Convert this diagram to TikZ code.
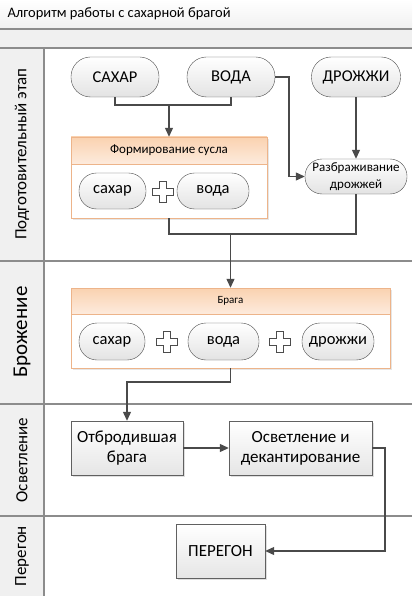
\documentclass[tikz,border=0pt]{standalone}
\usepackage{fontspec}
\setmainfont{Carlito}
\usetikzlibrary{shadows,arrows.meta}

\definecolor{linegray}{HTML}{4A4A4A}
\definecolor{lanegray}{HTML}{8C8C8C}
\definecolor{bandgray}{HTML}{F0F0F0}
\definecolor{grpedge}{HTML}{EDB48A}
\definecolor{headtop}{HTML}{FAD2B0}
\definecolor{headbot}{HTML}{FDEBDD}

\newcommand{\plusmark}[1]{%
  \draw[plusline, shift={#1}] (-3.5,-10.5) -- (3.5,-10.5) -- (3.5,-3.5) -- (10.5,-3.5)
    -- (10.5,3.5) -- (3.5,3.5) -- (3.5,10.5) -- (-3.5,10.5) -- (-3.5,3.5)
    -- (-10.5,3.5) -- (-10.5,-3.5) -- (-3.5,-3.5) -- cycle;}

\begin{document}
\begin{tikzpicture}[>={Triangle[length=9pt,width=8pt]}, x=1pt, y=-1pt,
    pill/.style={draw=linegray, top color=white, bottom color=gray!22,
      inner sep=0pt, font=\fontsize{16.5}{18}\selectfont},
    box/.style={draw=gray!75!black, top color=white, bottom color=gray!20,
      inner sep=0pt, align=center, font=\fontsize{17}{20}\selectfont,
      drop shadow={shadow xshift=2pt, shadow yshift=-2pt, opacity=0.25}},
    group/.style={draw=grpedge, fill=white, inner sep=0pt,
      drop shadow={shadow xshift=2pt, shadow yshift=-2pt, opacity=0.2}},
    head/.style={draw=grpedge, top color=headtop, bottom color=headbot, inner sep=0pt},
    plusline/.style={draw=gray!60!black, fill=white, line width=0.6pt},
    flow/.style={draw=linegray, line width=1.2pt},
    lanelabel/.style={rotate=90, font=\fontsize{17}{19}\selectfont}]

    \useasboundingbox (0,0) rectangle (412,596);

    % Заголовок и полосы
    \shade[top color=white, bottom color=bandgray] (0,0) rectangle (412,29);
    \fill[bandgray] (0,29) rectangle (412,48);
    \fill[bandgray] (0,48) rectangle (44,596);
    \draw[lanegray, line width=1.4pt] (0,29) -- (412,29);
    \draw[lanegray, line width=1.4pt] (0,48) -- (412,48);
    \draw[lanegray, line width=1.4pt] (44,48) -- (44,596);
    \draw[lanegray, line width=1.2pt] (0,261) -- (412,261);
    \draw[lanegray, line width=1.2pt] (0,404) -- (412,404);
    \draw[lanegray, line width=1.2pt] (0,516) -- (412,516);
    \node[anchor=west, font=\fontsize{14.5}{16}\selectfont] (title) at (4,14) {Алгоритм работы с сахарной брагой};

    % Дорожки
    \node[lanelabel] (lane1) at (22,154) {Подготовительный этап};
    \node[lanelabel, font=\fontsize{21}{23}\selectfont] (lane2) at (22,332) {Брожение};
    \node[lanelabel] (lane3) at (22,460) {Осветление};
    \node[lanelabel] (lane4) at (22,556) {Перегон};

    % Исходные компоненты
    \node[pill, rounded corners=19.5pt, minimum width=88pt, minimum height=40pt] (sahar) at (115,77) {САХАР};
    \node[pill, rounded corners=19.5pt, minimum width=88pt, minimum height=40pt] (voda) at (231,77) {ВОДА};
    \node[pill, rounded corners=19.5pt, minimum width=89pt, minimum height=40pt] (drozh) at (356,77) {ДРОЖЖИ};
    \node[pill, rounded corners=17pt, minimum width=102pt, minimum height=35pt, align=center,
      font=\fontsize{13}{17}\selectfont] (razb) at (356,176.5) {Разбраживание\\дрожжей};

    % Формирование сусла
    \node[group, minimum width=196pt, minimum height=81pt] (fbox) at (169,177.5) {};
    \node[head, minimum width=196pt, minimum height=27pt, font=\fontsize{13}{15}\selectfont] (fhead) at (169,150.5) {Формирование сусла};
    \node[pill, rounded corners=17.5pt, minimum width=67pt, minimum height=36pt] (fsahar) at (112.5,191) {сахар};
    \node[pill, rounded corners=17.5pt, minimum width=72pt, minimum height=36pt] (fvoda) at (213,191) {вода};
    \plusmark{(162.5,191.5)}

    % Брага
    \node[group, minimum width=319pt, minimum height=80pt] (bbox) at (230.5,328) {};
    \node[head, minimum width=319pt, minimum height=26pt, font=\fontsize{11}{13}\selectfont] (bhead) at (230.5,301) {Брага};
    \node[pill, rounded corners=18pt, minimum width=66pt, minimum height=37pt] (bsahar) at (112,341.5) {сахар};
    \node[pill, rounded corners=18pt, minimum width=71pt, minimum height=37pt] (bvoda) at (223.5,341.5) {вода};
    \node[pill, rounded corners=18pt, minimum width=72pt, minimum height=37pt] (bdrozh) at (338,341.5) {дрожжи};
    \plusmark{(167,341.5)}
    \plusmark{(280,341.5)}

    % Осветление и перегон
    \node[box, minimum width=112pt, minimum height=54pt] (otb) at (127,448) {Отбродившая\\брага};
    \node[box, minimum width=143pt, minimum height=54pt] (osv) at (300.5,448) {Осветление и\\декантирование};
    \node[box, minimum width=89pt, minimum height=54pt] (peregon) at (220.5,551) {ПЕРЕГОН};

    % Точки излома
    \coordinate (j1) at (169,105);
    \coordinate (v1) at (289,77);
    \coordinate (j2) at (230.5,234);
    \coordinate (j3) at (230.5,382);
    \coordinate (j4) at (385,448);

    % Связи
    \draw[flow] (sahar.south) |- (j1) -| (voda.south);
    \draw[flow, ->] (j1) -- (fbox.north);
    \draw[flow, ->] (voda.east) -- (v1) |- (razb.west);
    \draw[flow, ->] (drozh.south) -- (razb.north);
    \draw[flow] (fbox.south) |- (j2) -| (razb.south);
    \draw[flow, ->] (j2) -- (bbox.north);
    \draw[flow, ->] (bbox.south) -- (j3) -| (otb.north);
    \draw[flow, ->] (otb.east) -- (osv.west);
    \draw[flow, ->] (osv.east) -- (j4) |- (peregon.east);

\end{tikzpicture}
\end{document}
